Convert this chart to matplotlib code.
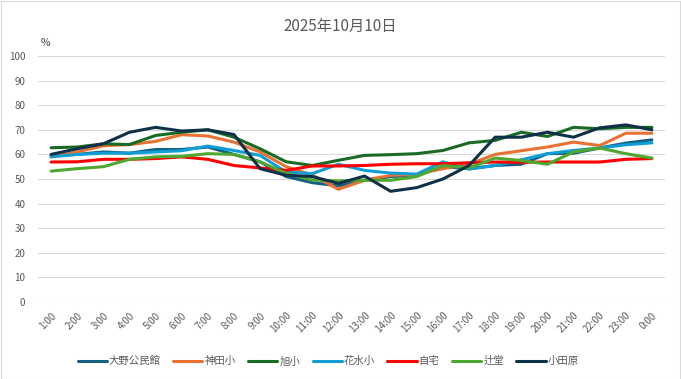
import matplotlib.pyplot as plt
import matplotlib.patches as patches

plt.rcParams['font.family'] = ['Noto Sans CJK JP', 'DejaVu Sans']

hours = ['1:00', '2:00', '3:00', '4:00', '5:00', '6:00', '7:00', '8:00', '9:00', '10:00',
         '11:00', '12:00', '13:00', '14:00', '15:00', '16:00', '17:00', '18:00', '19:00',
         '20:00', '21:00', '22:00', '23:00', '0:00']

oono = [59.5, 60, 61, 60.5, 62, 62, 63, 60, 57, 51, 48.5, 47.2, 49.5, 51, 51.5, 55,
        54.2, 55.5, 56, 60.3, 60.5, 62.6, 64.6, 65.9]
kanda = [59, 61, 63.5, 64, 65.3, 68, 67.5, 65, 61, 55, 51.6, 45.8, 49.5, 51.5, 51.9, 54.2,
         56, 60, 61.5, 63, 65, 63.6, 68.6, 68.6]
asahi = [62.7, 63, 64.3, 64, 67.7, 69, 70, 67, 62.3, 57, 55.5, 57.6, 59.6, 59.9, 60.3, 61.6,
         64.7, 65.7, 69, 67.3, 71, 70.4, 71, 71]
hanamizu = [59, 60, 60.5, 60.5, 61, 61.5, 63.4, 61.6, 59.6, 52.8, 52.2, 56, 53.5, 52.4, 52,
            57, 54, 55.5, 57.8, 60.3, 61.6, 62.6, 63.9, 64.7]
jitaku = [56.9, 57, 58, 58, 58.3, 59, 58, 55.5, 54.5, 53.5, 55.3, 55.3, 55.5, 56, 56.2, 56.2,
          56.6, 56.9, 56.8, 56.9, 56.9, 56.9, 58, 58.3]
tsujido = [53.2, 54.2, 55, 58, 59, 59.2, 60.3, 60, 57, 52.3, 49.6, 49.2, 49.5, 49.5, 51, 55.5,
           54.5, 58.5, 57.5, 56, 61, 62.6, 60.3, 58.5]
odawara = [60, 62.3, 64.3, 69, 71, 69.5, 70, 68.1, 54.2, 51.5, 51, 48.2, 51.2, 45, 46.5, 50,
           55.5, 67, 67, 69, 67, 70.8, 72, 70]

names = ['大野公民館', '神田小', '旭小', '花水小', '自宅', '辻堂', '小田原']
series = [oono, kanda, asahi, hanamizu, jitaku, tsujido, odawara]
colors = ['#156082', '#E97132', '#196B24', '#0F9ED5', '#FF0000', '#4EA72E', '#0E3148']

fig = plt.figure(figsize=(6.81, 3.79), dpi=100)
fig.patches.append(patches.Rectangle((0.001, 0.001), 0.997, 0.996, transform=fig.transFigure,
                                     fill=False, edgecolor='#D9D9D9', linewidth=0.8))
ax = fig.add_axes([0.0558, 0.2032, 0.9207, 0.649])

x = list(range(len(hours)))
for name, vals, c in zip(names, series, colors):
    ax.plot(x, vals, color=c, linewidth=2.2, label=name, solid_capstyle='round')

ax.set_xlim(-0.5, len(hours) - 0.5)
ax.set_ylim(0, 100)
ax.set_yticks(range(0, 101, 10))
ax.set_xticks(x)
ax.set_xticklabels(hours, rotation=45, ha='right', rotation_mode='anchor')
ax.tick_params(axis='both', length=0, labelsize=7, colors='#595959')
ax.tick_params(axis='x', pad=6)
ax.tick_params(axis='y', pad=9)
ax.grid(axis='y', color='#D9D9D9', linewidth=0.8)
ax.set_axisbelow(True)
for s in ax.spines.values():
    s.set_visible(False)

fig.text(0.059, 0.878, '%', fontsize=7.5, color='#404040')
fig.suptitle('2025年10月10日', y=0.952, fontsize=11, color='#595959')

leg = fig.legend(loc='center', bbox_to_anchor=(0.482, 0.047), ncol=7, frameon=False,
                 fontsize=7.5, handlelength=2.8, handletextpad=0.2, columnspacing=1.2)
for t in leg.get_texts():
    t.set_color('#595959')

fig.savefig('out.png', dpi=100)
